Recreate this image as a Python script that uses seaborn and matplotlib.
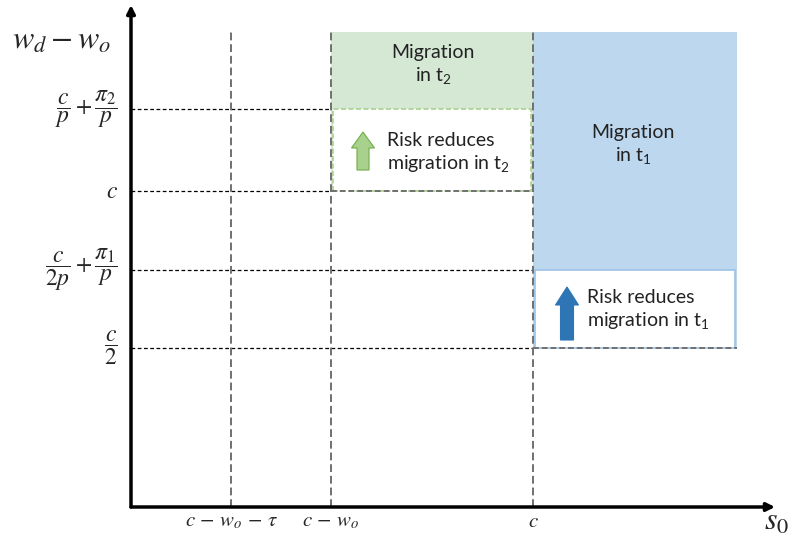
import matplotlib
matplotlib.use("Agg")
import matplotlib.pyplot as plt
from matplotlib.patches import Rectangle
import seaborn as sns

# tick positions (data units) and their labels
x_pos = [1.0, 2.0, 4.02]
x_labels = [r"$c\,-\,w_o\,-\,\tau$", r"$c\,-\,w_o$", r"$c$"]
y_pos = [3.98, 3.16, 2.37, 1.59]
y_labels = [r"$\dfrac{c}{p}+\dfrac{\pi_2}{p}$", r"$c$",
            r"$\dfrac{c}{2p}+\dfrac{\pi_1}{p}$", r"$\dfrac{c}{2}$"]

# regions
top = 4.75
right = 6.06
x_max = 6.44
y_max = 5.02

sns.set_theme(style="white")
plt.rcParams["font.family"] = ["Lato", "DejaVu Sans"]
plt.rcParams["mathtext.fontset"] = "stix"

fig = plt.figure(figsize=(7.94, 5.48), dpi=100)
ax = fig.add_axes([131 / 794, 41 / 548, 663 / 794, 507 / 548])
ax.set_xlim(0, 6.63)
ax.set_ylim(0, 5.07)
ax.axis("off")

green = "#d5e8d4"
blue = "#bdd7ee"
grey = "#707070"

# shaded regions
ax.add_patch(Rectangle((x_pos[1], y_pos[1]), x_pos[2] - x_pos[1], top - y_pos[1],
                       fc=green, ec="none", zorder=1))
ax.add_patch(Rectangle((x_pos[2], y_pos[3]), right - x_pos[2], top - y_pos[3],
                       fc=blue, ec="none", zorder=1))

# white inner boxes
ax.add_patch(Rectangle((x_pos[1] + 0.02, y_pos[1]), x_pos[2] - x_pos[1] - 0.04,
                       y_pos[0] - y_pos[1], fc="white", ec="#a9d18e", lw=1.2,
                       ls=(0, (3, 1.5)), zorder=2))
ax.add_patch(Rectangle((x_pos[2] + 0.02, y_pos[3]), right - x_pos[2] - 0.04,
                       y_pos[2] - y_pos[3], fc="white", ec="#9dc3e6", lw=1.2,
                       zorder=2))

# horizontal guide lines
ax.hlines(y_pos[0], 0, x_pos[1], colors="black", lw=0.9, ls=(0, (3, 2)), zorder=3)
ax.hlines(y_pos[1], 0, x_pos[1], colors="black", lw=0.9, ls=(0, (3, 2)), zorder=3)
ax.hlines(y_pos[1], x_pos[1], x_pos[2], colors=grey, lw=1.4, ls=(0, (3, 1.5)), zorder=3)
ax.hlines(y_pos[2], 0, x_pos[2], colors="black", lw=0.9, ls=(0, (3, 2)), zorder=3)
ax.hlines(y_pos[3], 0, x_pos[2], colors="black", lw=0.9, ls=(0, (3, 2)), zorder=3)
ax.hlines(y_pos[3], x_pos[2], right, colors=grey, lw=1.4, ls=(0, (3, 1.5)), zorder=3)

# vertical guide lines
ax.vlines(x_pos, 0, top, colors=grey, lw=1.4, ls=(0, (4, 2)), zorder=3)

# axes with arrow heads
ax.annotate("", xy=(x_max, 0), xytext=(0, 0),
            arrowprops=dict(arrowstyle="-|>", lw=2.5, color="black",
                            mutation_scale=12, shrinkA=0, shrinkB=0), zorder=5)
ax.annotate("", xy=(0, y_max), xytext=(0, 0),
            arrowprops=dict(arrowstyle="-|>", lw=2.5, color="black",
                            mutation_scale=12, shrinkA=0, shrinkB=0), zorder=5)

# tick labels
for x, lab in zip(x_pos, x_labels):
    ax.text(x, -0.14, lab, ha="center", va="center", fontsize=15, clip_on=False)
for y, lab in zip(y_pos, y_labels):
    ax.text(-0.13, y, lab, ha="right", va="center", fontsize=17, clip_on=False)

ax.text(-0.70, 4.67, r"$w_d-w_o$", ha="center", va="center", fontsize=23, clip_on=False)
ax.text(6.46, -0.14, r"$s_0$", ha="center", va="center", fontsize=23, clip_on=False)

# region texts
txt = dict(fontsize=14, linespacing=1.3, color="#222222", zorder=4, va="center")
ax.text(3.02, 4.42, "Migration\nin $\\mathregular{t_2}$", ha="center", **txt)
ax.text(5.02, 3.62, "Migration\nin $\\mathregular{t_1}$", ha="center", **txt)
ax.text(2.56, 3.54, "Risk reduces\nmigration in $\\mathregular{t_2}$", ha="left", **txt)
ax.text(4.56, 1.97, "Risk reduces\nmigration in $\\mathregular{t_1}$", ha="left", **txt)

# block arrows
ax.arrow(2.32, 3.37, 0, 0.38, width=0.12, head_width=0.23, head_length=0.16,
         length_includes_head=True, fc="#a9d18e", ec="#70ad47", lw=0.8, zorder=4)
ax.arrow(4.36, 1.67, 0, 0.53, width=0.13, head_width=0.23, head_length=0.18,
         length_includes_head=True, fc="#2e75b6", ec="#2e75b6", lw=0.8, zorder=4)

fig.savefig("out.png", dpi=100, facecolor="white")
